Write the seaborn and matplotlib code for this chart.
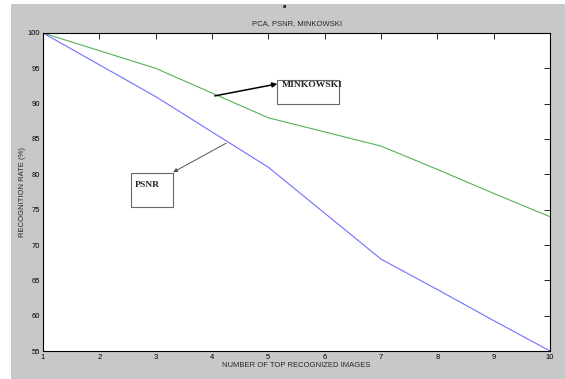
import matplotlib
matplotlib.use("Agg")
import matplotlib.pyplot as plt
import seaborn as sns
import pandas as pd
from matplotlib.patches import Rectangle

# data
images = [1, 2, 3, 4, 5, 6, 7, 8, 9, 10]
psnr = [100, 95.5, 91, 86, 81, 74.5, 68, 63.7, 59.3, 55]
minkowski = [100, 97.5, 95, 91.5, 88, 86, 84, 80.7, 77.3, 74]
x_ticks = list(range(1, 11))
y_ticks = list(range(55, 101, 5))

df = pd.DataFrame({"images": images, "PSNR": psnr, "MINKOWSKI": minkowski})

sns.set_style("white")
plt.rcParams["font.family"] = ["Liberation Sans", "DejaVu Sans"]

fig = plt.figure(figsize=(5.65, 3.79), dpi=100, facecolor="white")
# gray matlab-like figure background
fig.patches.append(Rectangle((11 / 565, 0), 1 - 11 / 565, 1 - 4 / 379,
                             transform=fig.transFigure, facecolor="#c8c8c8",
                             edgecolor="none", zorder=-5))
ax = fig.add_axes([43 / 565, 1 - 351 / 379, 507 / 565, 318 / 379])
ax.set_facecolor("white")
ax.set_zorder(2)

sns.lineplot(data=df, x="images", y="MINKOWSKI", ax=ax, color="#55b055", linewidth=0.8)
sns.lineplot(data=df, x="images", y="PSNR", ax=ax, color="#7070ff", linewidth=0.8)

ax.set_xlim(1, 10)
ax.set_ylim(55, 100)
ax.set_xticks(x_ticks)
ax.set_yticks(y_ticks)
ax.tick_params(direction="in", length=4, width=0.6, labelsize=5.5, top=True, right=True,
               pad=2, colors="black")
for s in ax.spines.values():
    s.set_linewidth(0.8)
    s.set_color("black")

ax.set_title("PCA, PSNR, MINKOWSKI", fontsize=5.5, pad=6)
ax.set_xlabel("NUMBER OF TOP RECOGNIZED IMAGES", fontsize=5.5, labelpad=1)
ax.set_ylabel("RECOGNITION RATE (%)", fontsize=5.5, labelpad=1)

# small marker above the title
fig.text(284 / 565, 1 - 6 / 379, "\u25a0", fontsize=4, ha="center", va="center")

# text boxes with arrows
ax.add_patch(Rectangle((5.16, 89.95), 1.1, 3.4, facecolor="white", edgecolor="#666666",
                       linewidth=0.8, zorder=3))
ax.text(5.24, 92.6, "MINKOWSKI", fontsize=6.8, fontweight="bold", family="Liberation Serif",
        va="center", ha="left", zorder=4)
ax.annotate("", xy=(5.16, 92.8), xytext=(4.05, 91.1),
            arrowprops=dict(arrowstyle="-|>", color="black", lw=1.1, mutation_scale=7,
                            shrinkA=0, shrinkB=0))

ax.add_patch(Rectangle((2.56, 75.4), 0.75, 4.8, facecolor="white", edgecolor="#666666",
                       linewidth=0.8, zorder=3))
ax.text(2.63, 78.5, "PSNR", fontsize=6.8, fontweight="bold", family="Liberation Serif",
        va="center", ha="left", zorder=4)
ax.annotate("", xy=(3.31, 80.3), xytext=(4.25, 84.4),
            arrowprops=dict(arrowstyle="-|>", color="#555555", lw=0.7, mutation_scale=6,
                            shrinkA=0, shrinkB=0))

fig.savefig("out.png", dpi=100)
